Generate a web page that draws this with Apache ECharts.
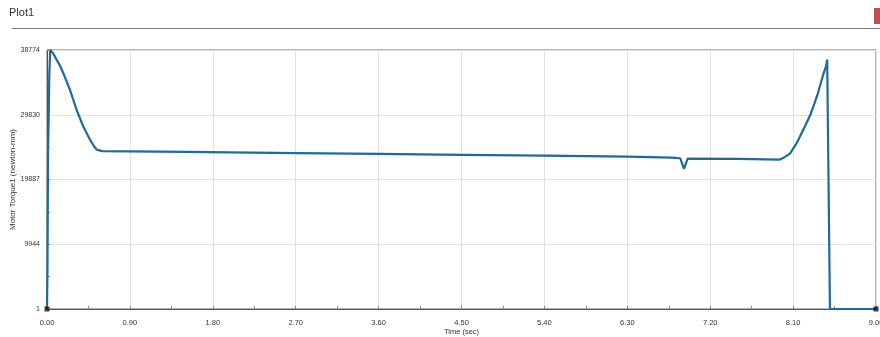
<!DOCTYPE html>
<html>
<head>
<meta charset="utf-8">
<script src="https://cdn.jsdelivr.net/npm/echarts@6/dist/echarts.min.js"></script>
<style>html,body{margin:0;padding:0;background:#fff}#c{width:880px;height:337px}</style>
</head>
<body>
<div id="c"></div>
<script>
var times = [0, 0.005, 0.012, 0.018, 0.025, 0.035, 0.07, 0.105, 0.14, 0.177, 0.25, 0.322, 0.394, 0.467, 0.51, 0.54, 0.6, 1.5, 2.7, 3.6, 4.5, 5.4, 6.3, 6.78, 6.875, 6.915, 6.955, 7.5, 7.958, 8.0, 8.066, 8.139, 8.175, 8.23, 8.284, 8.33, 8.371, 8.425, 8.458, 8.47, 8.50, 9.0];
var torque = [1, 6000, 25000, 29000, 36000, 39772, 39200, 38254, 37400, 36212, 33627, 30559, 28019, 25995, 25000, 24467, 24250, 24120, 23950, 23820, 23680, 23540, 23400, 23250, 23150, 21527, 23100, 23050, 22950, 23250, 23850, 25470, 26500, 28100, 29700, 31500, 33200, 35900, 37300, 38300, 1, 1];
var xTicks = ['0.00','0.90','1.80','2.70','3.60','4.50','5.40','6.30','7.20','8.10','9.00'];
var yTickLabels = ['1','9944','19887','29830','38774'];
var endPoints = [[0, 1], [9.0, 1]];

var chart = echarts.init(document.getElementById('c'), null, {renderer: 'canvas'});
var lineData = times.map(function (t, i) { return [t, torque[i]]; });
var font = 'Liberation Sans, Arial, sans-serif';
chart.setOption({
  animation: false,
  backgroundColor: '#fff',
  grid: {left: 47, right: 4, top: 50, bottom: 28, show: true, borderColor: '#666', borderWidth: 1,
         containLabel: false, outerBoundsMode: 'none'},
  graphic: [
    {type: 'text', left: 9, top: 7, style: {text: 'Plot1', fontSize: 11, fill: '#333', fontFamily: font}},
    {type: 'line', shape: {x1: 12, y1: 28.5, x2: 880, y2: 28.5}, style: {stroke: '#777', lineWidth: 1}},
    {type: 'rect', shape: {x: 874, y: 8, width: 6, height: 16}, style: {fill: '#c94a4a'}}
  ],
  xAxis: {
    type: 'value', min: 0, max: 9, interval: 0.9,
    name: 'Time (sec)', nameLocation: 'middle', nameGap: 19, nameMoveOverlap: false,
    nameTextStyle: {fontSize: 7.5, color: '#333', fontFamily: font},
    axisLine: {lineStyle: {color: '#555', width: 1}},
    axisTick: {show: true, inside: true, length: 3, lineStyle: {color: '#888'}},
    minorTick: {show: true, splitNumber: 2, length: 3, lineStyle: {color: '#888'}},
    axisLabel: {fontSize: 7.5, color: '#333', margin: 10, fontFamily: font,
      formatter: function (v) { return xTicks[Math.round(v / 0.9)] || ''; }},
    splitLine: {show: true, lineStyle: {color: '#e2e2e2', width: 1}}
  },
  yAxis: {
    type: 'value', min: 0, max: 39772, interval: 9943,
    name: 'Motor Torque1 (newton-mm)', nameLocation: 'middle', nameGap: 30, nameMoveOverlap: false,
    nameTextStyle: {fontSize: 8, color: '#333', fontFamily: font},
    axisLine: {show: true, lineStyle: {color: '#555', width: 1}},
    axisTick: {show: true, inside: true, length: 3, lineStyle: {color: '#888'}},
    minorTick: {show: true, splitNumber: 2, length: 3, lineStyle: {color: '#888'}},
    axisLabel: {fontSize: 7, color: '#333', margin: 7, fontFamily: font,
      formatter: function (v) { return yTickLabels[Math.round(v / 9943)] || ''; }},
    splitLine: {show: true, lineStyle: {color: '#e2e2e2', width: 1}}
  },
  series: [
    {type: 'line', data: lineData, showSymbol: false, symbol: 'none', smooth: false,
     lineStyle: {color: '#1f6a98', width: 2.2}, z: 3},
    {type: 'scatter', data: endPoints, symbol: 'rect', symbolSize: 5,
     itemStyle: {color: '#111'}, z: 4}
  ]
});
</script>
</body>
</html>
